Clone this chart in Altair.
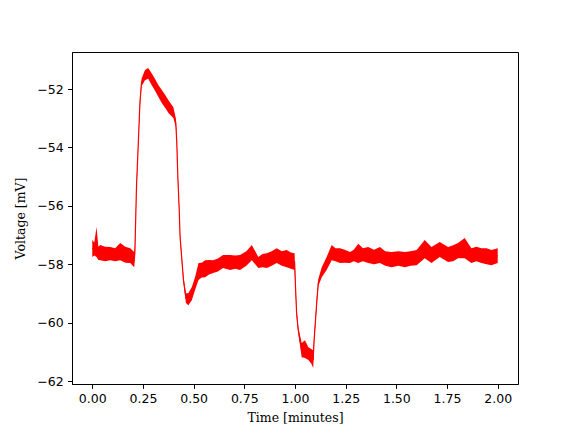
import altair as alt
import pandas as pd

# time in minutes, lower and upper envelope of the noisy voltage trace (mV)
time_min = [0.000, 0.010, 0.021, 0.030, 0.039, 0.064, 0.089, 0.113, 0.138, 0.163, 0.187, 0.207,
            0.210, 0.218, 0.227, 0.235, 0.243, 0.260, 0.276, 0.292, 0.309, 0.325, 0.343, 0.360,
            0.376, 0.400, 0.412, 0.417, 0.422, 0.429, 0.433, 0.442, 0.450, 0.462, 0.474, 0.491,
            0.507, 0.524, 0.540, 0.557, 0.576, 0.596, 0.620, 0.645, 0.680, 0.705, 0.729, 0.760,
            0.787, 0.819, 0.840, 0.861, 0.885, 0.910, 0.935, 0.959, 0.980, 0.998, 1.003, 1.008,
            1.016, 1.033, 1.049, 1.066, 1.080, 1.090, 1.094, 1.107, 1.115, 1.132, 1.156, 1.181,
            1.200, 1.222, 1.245, 1.271, 1.290, 1.312, 1.335, 1.361, 1.390, 1.419, 1.445, 1.476,
            1.510, 1.542, 1.570, 1.600, 1.640, 1.673, 1.714, 1.755, 1.780, 1.804, 1.837, 1.870,
            1.895, 1.920, 1.945, 1.969, 2.000]

volt_low = [-57.75, -57.70, -57.75, -57.85, -57.86, -57.90, -57.86, -57.90, -57.86, -57.95, -57.96, -58.10,
            -57.85, -55.50, -53.95, -52.60, -51.90, -51.70, -51.65, -51.85, -52.05, -52.25, -52.48, -52.65,
            -52.82, -52.99, -53.30, -53.95, -55.10, -56.25, -57.15, -57.95, -58.65, -59.33, -59.40, -59.23,
            -58.88, -58.54, -58.45, -58.44, -58.35, -58.30, -58.25, -58.13, -58.20, -58.15, -58.20, -58.05,
            -57.86, -58.13, -58.10, -58.13, -58.05, -57.96, -58.05, -58.10, -58.15, -58.20, -59.00, -59.80,
            -60.35, -61.18, -61.21, -61.28, -61.40, -61.55, -60.75, -59.45, -58.75, -58.44, -58.20, -57.86,
            -57.90, -57.96, -57.95, -57.96, -57.90, -57.96, -57.90, -57.96, -58.00, -57.96, -58.05, -58.10,
            -58.05, -58.10, -58.05, -58.03, -57.79, -57.96, -57.75, -57.92, -57.90, -57.79, -57.79, -57.96,
            -57.90, -57.96, -58.00, -58.03, -57.96]

volt_high = [-57.17, -57.25, -56.72, -57.40, -57.34, -57.40, -57.41, -57.45, -57.27, -57.40, -57.45, -57.58,
             -57.40, -55.25, -53.75, -52.38, -51.65, -51.35, -51.28, -51.45, -51.65, -51.85, -52.03, -52.20,
             -52.38, -52.62, -53.00, -53.75, -54.90, -56.05, -56.95, -57.75, -58.45, -58.99, -58.99, -58.78,
             -58.44, -57.96, -57.95, -57.86, -57.85, -57.86, -57.80, -57.68, -57.68, -57.70, -57.68, -57.55,
             -57.34, -57.75, -57.65, -57.62, -57.55, -57.45, -57.55, -57.51, -57.60, -57.62, -58.75, -59.55,
             -60.15, -60.70, -60.60, -60.84, -60.90, -60.94, -60.50, -59.20, -58.50, -58.10, -57.75, -57.34,
             -57.45, -57.45, -57.50, -57.58, -57.50, -57.30, -57.45, -57.41, -57.50, -57.41, -57.55, -57.58,
             -57.55, -57.58, -57.55, -57.51, -57.17, -57.41, -57.24, -57.41, -57.35, -57.27, -57.10, -57.45,
             -57.40, -57.45, -57.45, -57.51, -57.45]

x_ticks = [0.0, 0.25, 0.5, 0.75, 1.0, 1.25, 1.5, 1.75, 2.0]
y_ticks = [-62, -60, -58, -56, -54, -52]

df = pd.DataFrame({"t": time_min, "lo": volt_low, "hi": volt_high})
df["mid"] = (df["lo"] + df["hi"]) / 2

xenc = alt.X("t:Q", scale=alt.Scale(domain=[-0.1, 2.1], nice=False, zero=False),
             axis=alt.Axis(values=x_ticks, format=".2f", title="Time [minutes]"))
yscale = alt.Scale(domain=[-62.1, -50.73], nice=False, zero=False)
yaxis = alt.Axis(values=y_ticks, format="d", title="Voltage [mV]")

band = alt.Chart(df).mark_area(color="#ff0000", opacity=1, interpolate="linear").encode(
    x=xenc,
    y=alt.Y("lo:Q", scale=yscale, axis=yaxis),
    y2="hi:Q",
)
line = alt.Chart(df).mark_line(color="#ff0000", strokeWidth=1.2).encode(
    x="t:Q",
    y="mid:Q",
)

chart = alt.layer(band, line).properties(
    width=446, height=332,
    autosize=alt.AutoSizeParams(type="none"),
    padding={"left": 64, "top": 44, "right": 50, "bottom": 40},
).configure_view(
    stroke="black", strokeWidth=1
).configure_axis(
    grid=False, domainColor="black", tickColor="black", labelColor="black",
    tickSize=4.4, labelPadding=4.5,
    labelFont="DejaVu Sans", labelFontSize=12.5,
    titleFont="DejaVu Serif", titleFontSize=12.5, titleFontWeight="normal",
    titleColor="black",
).configure_axisY(titlePadding=9).configure_axisX(titlePadding=6)

chart.save("out.html", embed_options={"renderer": "svg", "actions": False})
